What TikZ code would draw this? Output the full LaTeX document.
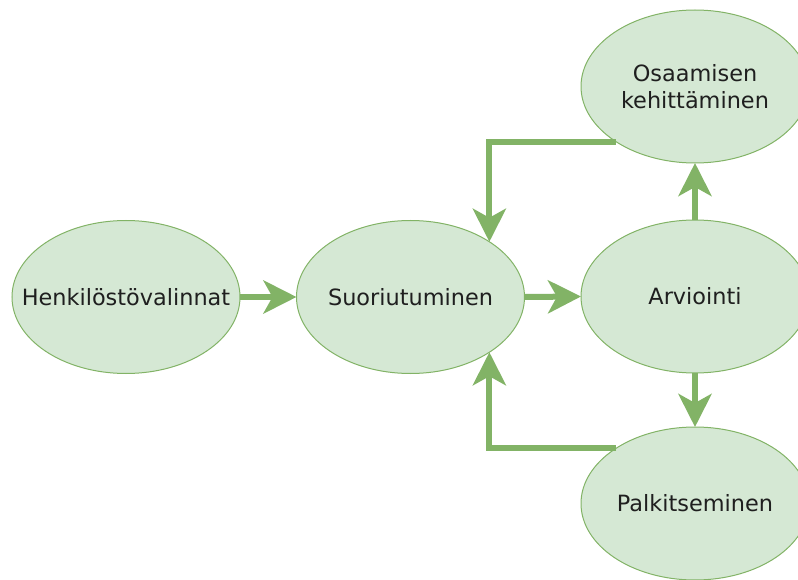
\documentclass[tikz,border=0pt]{standalone}
\usepackage{fontspec}
\setmainfont{DejaVu Sans}
\usetikzlibrary{shapes.geometric,arrows.meta}
\definecolor{leaf}{HTML}{D5E8D4}
\definecolor{stem}{HTML}{82B366}
\definecolor{ink}{HTML}{1F1F1F}
% zero-width line so the ellipse size is fixed by minimum width/height only
\newcommand{\midline}[1]{\makebox[0pt]{#1}}
\tikzset{
  phase/.style={ellipse, draw=stem, line width=1pt, fill=leaf,
    minimum width=228pt, minimum height=153pt, inner sep=0pt, outer sep=0pt,
    text=ink, align=center, font=\fontsize{22.4}{27.5}\selectfont},
  flow/.style={draw=stem, line width=6pt,
    -{Stealth[length=33pt,width=33pt,inset=9pt]}}
}
\begin{document}
\begin{tikzpicture}[x=1pt,y=-1pt]
  \useasboundingbox (0,0) rectangle (798,580);
  % stages of the cycle
  \node[phase] (h) at (126,297)   {\midline{Henkilöstövalinnat}};
  \node[phase] (s) at (410.5,297) {\midline{Suoriutuminen}};
  \node[phase] (a) at (695,296.5) {\midline{Arviointi}};
  \node[phase] (o) at (695,86.5)  {\midline{Osaamisen}\\\midline{kehittäminen}};
  \node[phase] (p) at (695,503.5) {\midline{Palkitseminen}};
  % forward flow
  \draw[flow] (h.east) -- (s.west);
  \draw[flow] (s.east) -- (a.west);
  \draw[flow] (a.north) -- (o.south);
  \draw[flow] (a.south) -- (p.north);
  % feedback loops back to performance
  \draw[flow] (o.215) -| (s.35);
  \draw[flow] (p.145) -| (s.-35);
\end{tikzpicture}
\end{document}
